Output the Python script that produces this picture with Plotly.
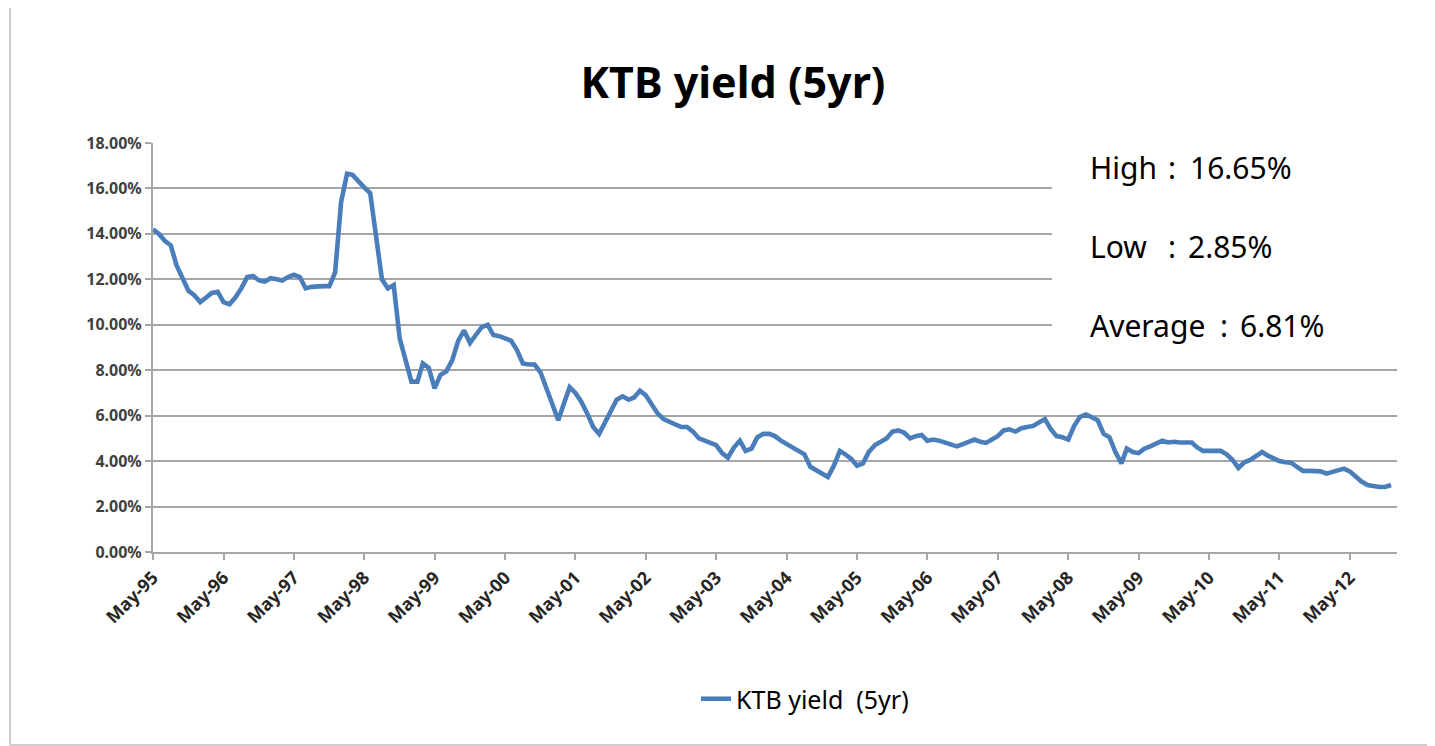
import pandas as pd
import plotly.graph_objects as go

# Monthly KTB 5yr yield (%), May-95 .. Dec-12
y95 = [14.2, 14.0, 13.7, 13.5, 12.6, 12.0, 11.5, 11.3, 11.0, 11.2, 11.4, 11.45]
y96 = [11.0, 10.9, 11.2, 11.6, 12.1, 12.15, 11.95, 11.9, 12.05, 12.0, 11.95, 12.1]
y97 = [12.2, 12.1, 11.6, 11.67, 11.7, 11.7, 11.7, 12.3, 15.4, 16.65, 16.6, 16.3]
y98 = [16.05, 15.8, 13.9, 12.0, 11.6, 11.75, 9.4, 8.5, 7.5, 7.5, 8.3, 8.1]
y99 = [7.2, 7.8, 7.95, 8.45, 9.3, 9.75, 9.2, 9.55, 9.9, 10.0, 9.55, 9.5]
y00 = [9.4, 9.3, 8.9, 8.3, 8.25, 8.25, 7.9, 7.2, 6.6, 5.8, 6.5, 7.25]
y01 = [7.0, 6.6, 6.1, 5.5, 5.2, 5.7, 6.3, 6.7, 6.85, 6.7, 6.8, 7.1]
y02 = [6.9, 6.5, 6.1, 5.85, 5.75, 5.65, 5.5, 5.5, 5.3, 5.0, 4.9, 4.8]
y03 = [4.7, 4.35, 4.15, 4.6, 4.9, 4.45, 4.55, 5.05, 5.2, 5.2, 5.1, 4.9]
y04 = [4.75, 4.6, 4.45, 4.3, 3.75, 3.6, 3.45, 3.3, 3.8, 4.45, 4.3, 4.1]
y05 = [3.8, 3.9, 4.4, 4.7, 4.85, 5.0, 5.3, 5.35, 5.25, 5.0, 5.1, 5.15]
y06 = [4.9, 4.95, 4.9, 4.8, 4.7, 4.65, 4.75, 4.85, 4.95, 4.85, 4.8, 4.95]
y07 = [5.1, 5.35, 5.4, 5.3, 5.45, 5.5, 5.55, 5.7, 5.85, 5.4, 5.1, 5.05]
y08 = [4.95, 5.55, 5.95, 6.05, 5.9, 5.8, 5.2, 5.05, 4.4, 3.9, 4.55, 4.4]
y09 = [4.35, 4.55, 4.65, 4.75, 4.9, 4.82, 4.85, 4.82, 4.82, 4.82, 4.6, 4.45]
y10 = [4.45, 4.45, 4.45, 4.3, 4.05, 3.7, 3.95, 4.05, 4.2, 4.4, 4.25, 4.1]
y11 = [4.0, 3.95, 3.93, 3.75, 3.57, 3.57, 3.57, 3.55, 3.45, 3.53, 3.6, 3.67]
y12 = [3.55, 3.3, 3.1, 2.95, 2.88, 2.86, 2.86, 2.95]

yields = (y95 + y96 + y97 + y98 + y99 + y00 + y01 + y02 + y03 + y04 + y05
          + y06 + y07 + y08 + y09 + y10 + y11 + y12)
months = pd.date_range("1995-05-01", periods=len(yields), freq="MS")

y_ticks = [0, 2, 4, 6, 8, 10, 12, 14, 16, 18]
y_ticklabels = ["0.00%", "2.00%", "4.00%", "6.00%", "8.00%", "10.00%",
                "12.00%", "14.00%", "16.00%", "18.00%"]

title_text = "KTB yield (5yr)"
series_name = "KTB yield\u00a0\u00a0(5yr)"
stat_labels = ["High", "Low", "Average"]
stat_values = ["16.65%", "2.85%", "6.81%"]

# figure placed by the page with an 8px body margin
OFF = 8
W, H = 1427, 738
L, R, T, B = 145, 38, 135, 194
pw, ph = W - L - R, H - T - B


def sx(xs):
    """screen x pixel -> paper fraction"""
    return (xs - OFF - L) / pw


def sy(ys):
    """screen y pixel -> paper fraction"""
    return (H - B - (ys - OFF)) / ph


fig = go.Figure()
fig.add_trace(go.Scatter(
    x=months, y=yields, mode="lines", name=series_name,
    line=dict(color="#4A7EBB", width=4.6),
))

grid_c = "#A6A6A6"
fig.update_layout(
    width=W, height=H,
    margin=dict(l=L, r=R, t=T, b=B, autoexpand=False),
    paper_bgcolor="white", plot_bgcolor="white",
    title=dict(text="<b>" + title_text + "</b>", x=(733 - OFF) / W, xref="container",
               xanchor="center", y=1 - (83 - OFF) / H, yref="container", yanchor="middle",
               font=dict(family="Noto Sans", size=43, color="black")),
    xaxis=dict(
        type="date",
        range=["1995-05-01", "2013-01-01"],
        tick0="1995-05-01", dtick="M12", tickformat="%b-%y",
        tickangle=-45,
        showgrid=False, zeroline=False,
        showline=True, linecolor=grid_c, linewidth=2,
        ticks="outside", ticklen=6, tickcolor=grid_c, tickwidth=2,
        tickfont=dict(family="Noto Sans", size=18, color="#262626", weight="bold"),
    ),
    yaxis=dict(
        range=[0, 18],
        tickvals=y_ticks, ticktext=y_ticklabels,
        showgrid=True, gridcolor=grid_c, gridwidth=2,
        zeroline=False,
        showline=True, linecolor=grid_c, linewidth=2,
        ticks="outside", ticklen=6, tickcolor=grid_c, tickwidth=2,
        tickfont=dict(family="Noto Sans", size=16, color="#404040", weight="bold"),
    ),
    showlegend=True,
    legend=dict(orientation="h", x=sx(805), xanchor="center", y=sy(699),
                yanchor="middle", font=dict(family="Noto Sans", size=25, color="black"),
                bgcolor="rgba(0,0,0,0)"),
)

# white box behind the statistics text
fig.add_shape(type="rect", xref="paper", yref="paper",
              x0=sx(1052), x1=sx(1402), y0=sy(352), y1=sy(136),
              fillcolor="white", line=dict(width=0), layer="above")

# outer chart frame
fig.add_shape(type="rect", xref="paper", yref="paper",
              x0=sx(10), x1=sx(1428), y0=sy(745), y1=sy(5),
              fillcolor="rgba(0,0,0,0)", line=dict(color="#BFBFBF", width=1.5),
              layer="below")

fnt = dict(family="Noto Sans", size=30, color="black")
label_y = [167, 246, 325]
colon_x = [1172, 1172, 1224]
value_x = [1188, 1186, 1238]
for lab, val, yc, cx, vx in zip(stat_labels, stat_values, label_y, colon_x, value_x):
    fig.add_annotation(text=lab, xref="paper", yref="paper", x=sx(1088), y=sy(yc),
                       xanchor="left", yanchor="middle", showarrow=False, font=fnt)
    fig.add_annotation(text=":", xref="paper", yref="paper", x=sx(cx), y=sy(yc),
                       xanchor="center", yanchor="middle", showarrow=False, font=fnt)
    fig.add_annotation(text=val, xref="paper", yref="paper", x=sx(vx), y=sy(yc),
                       xanchor="left", yanchor="middle", showarrow=False, font=fnt)

fig.write_html("out.html")
